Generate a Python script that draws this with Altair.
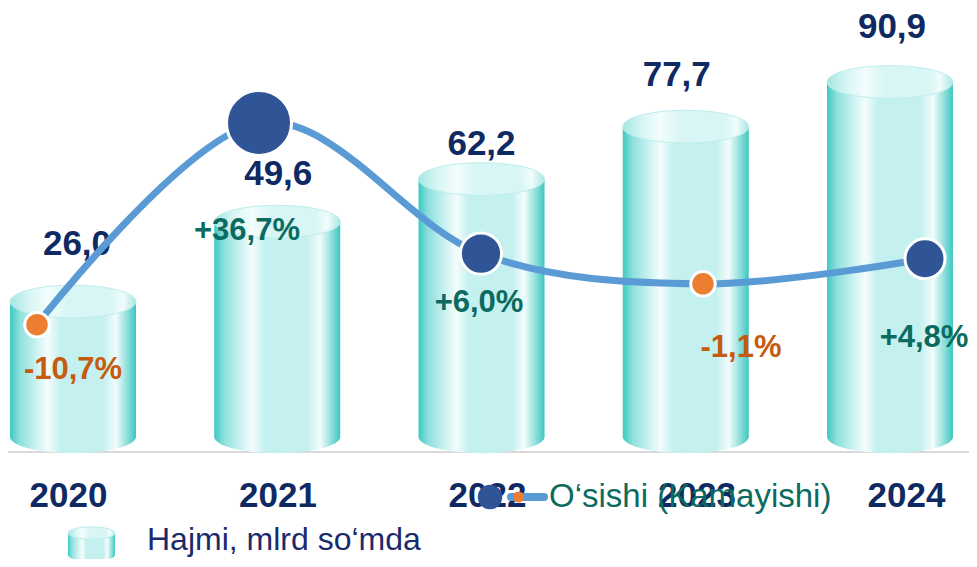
import altair as alt
import pandas as pd

# ---------------- data ----------------
years = ["2020", "2021", "2022", "2023", "2024"]
volume = [26.0, 49.6, 62.2, 77.7, 90.9]
growth = [-10.7, 36.7, 6.0, -1.1, 4.8]
volume_labels = ["26,0", "49,6", "62,2", "77,7", "90,9"]
growth_labels = ["-10,7%", "+36,7%", "+6,0%", "-1,1%", "+4,8%"]
legend_bar = "Hajmi, mlrd so\u2018mda"
legend_line = "O\u2018sishi (Kamayishi)"

df = pd.DataFrame({
    "year": years,
    "volume": volume,
    "growth": growth,
    "vlabel": volume_labels,
    "glabel": growth_labels,
})
one = pd.DataFrame({"k": [0]})

# ---------------- styling ----------------
W, H = 961, 444
BAR_RANGE = [65, 882]
AXIS_RANGE = [60, 898]
LINE_RANGE = [29, 917]
BAR_DOMAIN = [-18.5, 112.8]
BAR_BASE = -14.0
LINE_DOMAIN = [-40.6, 63.7]
CYL_W = 126
ELLIPSE = "M-1,0A1,0.26 0 1,1 1,0A1,0.26 0 1,1 -1,0Z"
NAVY = "#0f2a62"
TEAL_TXT = "#0b6b61"
ORANGE_TXT = "#c55a11"
VAL_DX = [4, 1, 0, -9, 2]
VAL_DY = [-58, -48, -35, -52, -55]
GR_DX = [36, -12, -2, 38, -1]
GR_DY = [45, 108, 49, 64, 79]

body_grad = {
    "gradient": "linear", "x1": 0, "x2": 1, "y1": 0, "y2": 0,
    "stops": [
        {"offset": 0.0, "color": "#3ec9c3"},
        {"offset": 0.08, "color": "#8fe0dc"},
        {"offset": 0.2, "color": "#c6f1f0"},
        {"offset": 0.3, "color": "#f5fdfd"},
        {"offset": 0.4, "color": "#c4f0ef"},
        {"offset": 0.74, "color": "#c4f0ef"},
        {"offset": 0.84, "color": "#f2fcfc"},
        {"offset": 0.93, "color": "#8fdfdb"},
        {"offset": 1.0, "color": "#3ec6c0"},
    ],
}
top_grad = {
    "gradient": "linear", "x1": 0, "x2": 1, "y1": 0, "y2": 0,
    "stops": [
        {"offset": 0.0, "color": "#a6e6e3"},
        {"offset": 0.15, "color": "#d6f5f4"},
        {"offset": 0.3, "color": "#f3fdfd"},
        {"offset": 0.45, "color": "#d8f6f5"},
        {"offset": 0.8, "color": "#d8f6f5"},
        {"offset": 0.9, "color": "#f0fcfc"},
        {"offset": 1.0, "color": "#a9e6e3"},
    ],
}

base = alt.Chart(df)

xb = alt.X("year:N", scale=alt.Scale(type="point", domain=years, range=BAR_RANGE, padding=0), axis=None)
yb = alt.Y("volume:Q", scale=alt.Scale(domain=BAR_DOMAIN, zero=False, nice=False), axis=None)
yb_base = alt.Y(datum=BAR_BASE, type="quantitative",
                scale=alt.Scale(domain=BAR_DOMAIN, zero=False, nice=False), axis=None)
xl = alt.X("year:N", scale=alt.Scale(type="point", domain=years, range=LINE_RANGE, padding=0), axis=None)
yl = alt.Y("growth:Q", scale=alt.Scale(domain=LINE_DOMAIN, zero=False, nice=False), axis=None)

# baseline rule
baseline = alt.Chart(one).mark_rule(color="#d9d9d9", strokeWidth=2).encode(
    x=alt.value(0), x2=alt.value(W), y=alt.value(H)
)

# year axis (own scale)
axis_layer = base.mark_point(opacity=0).encode(
    x=alt.X("year:N",
            scale=alt.Scale(type="point", domain=years, range=AXIS_RANGE, padding=0),
            axis=alt.Axis(title=None, ticks=False, domain=False, grid=False,
                          labelPadding=43, labelBaseline="middle", labelAngle=0,
                          labelFont="Liberation Sans Narrow, Arial Narrow, Liberation Sans",
                          labelFontWeight="bold", labelFontSize=35, labelColor=NAVY)),
)

# cylinders
bottom_ell = base.mark_point(shape=ELLIPSE, size=CYL_W ** 2, filled=True, fill=body_grad,
                             opacity=1, strokeWidth=0).encode(x=xb, y=yb_base)
body = base.mark_bar(size=CYL_W, fill=body_grad).encode(x=xb, y=yb, y2=alt.datum(BAR_BASE))
top_ell = base.mark_point(shape=ELLIPSE, size=CYL_W ** 2, filled=True, fill=top_grad,
                          opacity=1, stroke="#bdeeec", strokeWidth=1).encode(x=xb, y=yb)

value_texts = []
for i, yr in enumerate(years):
    value_texts.append(
        base.transform_filter(alt.datum.year == yr).mark_text(
            dx=VAL_DX[i], dy=VAL_DY[i], font="Liberation Sans", fontSize=35,
            fontWeight="bold", color=NAVY, baseline="middle", align="center"
        ).encode(x=xb, y=yb, text="vlabel:N")
    )

# growth line
line = base.mark_line(interpolate="cardinal", color="#5b9bd5", strokeWidth=7,
                      strokeCap="round").encode(x=xl, y=yl)
neg_pts = base.transform_filter(alt.datum.growth < 0).mark_point(
    filled=True, fill="#ed7d31", stroke="white", strokeWidth=3, size=600, opacity=1
).encode(x=xl, y=yl)
pos_pts = base.transform_filter(alt.datum.growth >= 0).mark_point(
    filled=True, fill="#2f5597", stroke="white", strokeWidth=3, opacity=1
).encode(
    x=xl, y=yl,
    size=alt.Size("growth:Q", scale=alt.Scale(domain=[4.8, 36.7], range=[1600, 4225], zero=False),
                  legend=None),
)

growth_texts = []
for i, yr in enumerate(years):
    col = ORANGE_TXT if growth[i] < 0 else TEAL_TXT
    growth_texts.append(
        base.transform_filter(alt.datum.year == yr).mark_text(
            dx=GR_DX[i], dy=GR_DY[i], font="Liberation Sans", fontSize=31,
            fontWeight="bold", color=col, baseline="middle", align="center"
        ).encode(x=xl, y=yl, text="glabel:N")
    )

# legend (drawn by hand)
leg = alt.Chart(pd.DataFrame({"t1": [legend_bar], "t2": [legend_line]}))
leg_icon_bottom = leg.mark_point(shape=ELLIPSE, size=47 ** 2, filled=True, fill=body_grad,
                                 opacity=1, strokeWidth=0).encode(x=alt.value(83.5), y=alt.value(547))
leg_icon_body = leg.mark_rect(fill=body_grad).encode(
    x=alt.value(60), x2=alt.value(107), y=alt.value(525), y2=alt.value(547))
leg_icon_top = leg.mark_point(shape=ELLIPSE, size=47 ** 2, filled=True, fill=top_grad,
                              opacity=1, stroke="#bdeeec", strokeWidth=1).encode(
    x=alt.value(83.5), y=alt.value(525))
leg_text1 = leg.mark_text(align="left", baseline="middle", font="Liberation Sans",
                          fontSize=32, color="#1b2a6b").encode(
    x=alt.value(139), y=alt.value(532), text="t1:N")
leg_line = leg.mark_rule(color="#5b9bd5", strokeWidth=8, strokeCap="round").encode(
    x=alt.value(503), x2=alt.value(536), y=alt.value(489))
leg_big = leg.mark_point(filled=True, fill="#2f5597", opacity=1, size=600, strokeWidth=0).encode(
    x=alt.value(482), y=alt.value(489))
leg_small = leg.mark_point(filled=True, fill="#ed7d31", opacity=1, size=121, strokeWidth=0).encode(
    x=alt.value(510.5), y=alt.value(489))
leg_text2 = leg.mark_text(align="left", baseline="middle", font="Liberation Sans",
                          fontSize=33, color=TEAL_TXT).encode(
    x=alt.value(541), y=alt.value(489), text="t2:N")

chart = alt.layer(
    baseline, axis_layer, bottom_ell, body, top_ell, *value_texts,
    line, neg_pts, pos_pts, *growth_texts,
    leg_icon_bottom, leg_icon_body, leg_icon_top, leg_text1,
    leg_line, leg_big, leg_small, leg_text2,
).resolve_scale(x="independent", y="independent", size="independent").properties(
    width=W, height=H,
    padding={"left": 0, "top": 0, "right": 0, "bottom": 107},
    autosize=alt.AutoSizeParams(type="none"),
    background="white",
).configure_view(strokeWidth=0)

chart.save("out.html", embed_options={"renderer": "svg", "actions": False})
